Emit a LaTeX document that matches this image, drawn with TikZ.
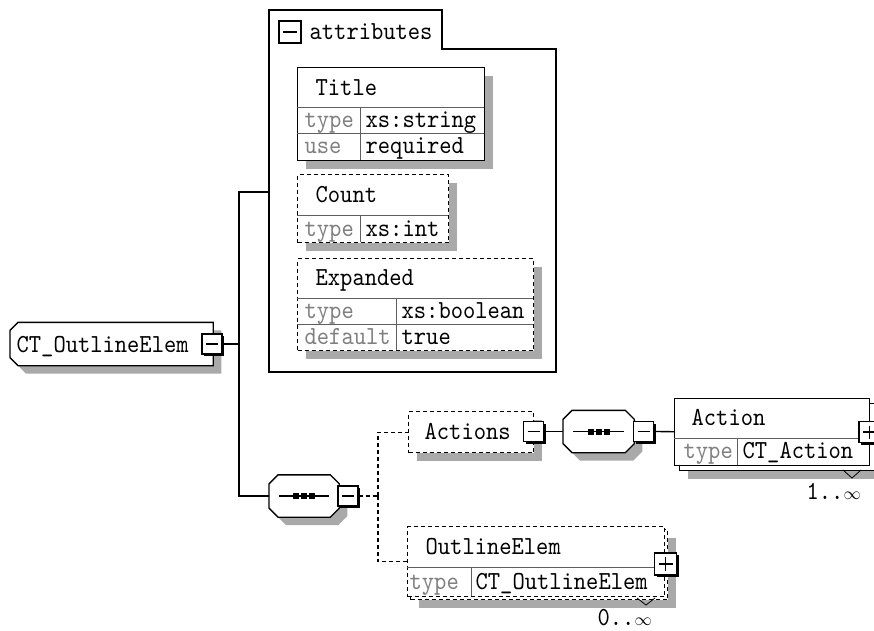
\documentclass[tikz,border=0pt]{standalone}
\usepackage{fontspec}
\usepackage{tikz}
\usetikzlibrary{shadows}

\newfontfamily\xsdfont{lmmono10-regular.otf}[FakeStretch=0.9]
\newcommand{\xsdtext}{\fontsize{26pt}{28pt}\xsdfont}
\definecolor{shadowgray}{HTML}{A9A9A9}
\definecolor{keygray}{HTML}{7F7F7F}
\definecolor{rulegray}{HTML}{5F5F5F}

% outline of a compositor: a box with all four corners cut off
\newcommand{\octpath}[2]{([xshift=#2]#1.north west) -- ([xshift=-#2]#1.north east) -- ([yshift=-#2]#1.north east) -- ([yshift=#2]#1.south east) -- ([xshift=-#2]#1.south east) -- ([xshift=#2]#1.south west) -- ([yshift=#2]#1.south west) -- ([yshift=-#2]#1.north west) -- cycle}
% three dots on a line, the sequence mark
\newcommand{\seqmark}[1]{%
    \draw[line width=1.3pt] ([xshift=10pt]#1.west) -- ([xshift=-10pt]#1.east);
    \foreach \dx in {-8, 0, 8}
        \fill ([xshift=\dx pt]#1.center) +(-3pt, -3pt) rectangle +(3pt, 3pt);
}

\begin{document}
\begin{tikzpicture}[
        x=1pt, y=-1pt,
        line width=1.3pt,
        drop/.style={general shadow={fill=shadowgray, shadow xshift=8pt, shadow yshift=-8pt}},
        elem_flat/.style={draw, rectangle, fill=white, inner sep=0pt, anchor=north west},
        elem_box/.style={elem_flat, drop},
        opt_flat/.style={elem_flat, dash pattern=on 4pt off 3pt},
        opt_box/.style={elem_box, dash pattern=on 4pt off 3pt},
        frame/.style={rectangle, inner sep=0pt, anchor=west},
        seq_frame/.style={frame, minimum width=69pt, minimum height=41pt},
        shape_line/.style={draw, fill=white, drop},
        tg_base/.style={draw, fill=white, rectangle, minimum size=20pt, inner sep=0pt},
        tg_3d/.style={general shadow={fill=black, shadow xshift=2pt, shadow yshift=-2pt}},
        bar_minus/.style={path picture={\draw[line width=1.3pt] ([xshift=4pt]path picture bounding box.west) -- ([xshift=-4pt]path picture bounding box.east);}},
        bar_plus/.style={path picture={\draw[line width=1.3pt] ([xshift=4pt]path picture bounding box.west) -- ([xshift=-4pt]path picture bounding box.east) ([yshift=-4pt]path picture bounding box.north) -- ([yshift=4pt]path picture bounding box.south);}},
        tg_minus/.style={tg_base, tg_3d, bar_minus},
        tg_plus/.style={tg_base, tg_3d, bar_plus},
        conn/.style={draw=black, line width=1.3pt},
        opt_conn/.style={conn, dash pattern=on 4pt off 3pt},
        rule_line/.style={draw=rulegray, line width=1pt},
        name_text/.style={anchor=base west, inner sep=0pt, font=\xsdtext},
        key_text/.style={name_text, text=keygray}
    ]
        \useasboundingbox (0, 0) rectangle (874, 630);

        % attributes group
        \draw[fill=white] (269, 10) -- (442, 10) -- (442, 49) -- (556, 49) -- (556, 372) -- (269, 372) -- cycle;
        \node (attr_tg) at (290, 32) [tg_base, minimum size=22pt, line width=2.6pt, bar_minus] {};
        \node (attr_name) at (309, 39) [name_text] {attributes};
        \coordinate (attr_in) at (269, 192);

        \node (title) at (297, 67) [elem_box, minimum width=187pt, minimum height=93pt] {};
        \draw[rule_line] (297, 107) -- (484, 107) (297, 133) -- (484, 133) (360, 107) -- (360, 160);
        \node (title_name) at (315, 95) [name_text] {Title};
        \node (title_k1) at (304, 127.5) [key_text] {type};
        \node (title_v1) at (365, 127.5) [name_text] {xs:string};
        \node (title_k2) at (304, 153.5) [key_text] {use};
        \node (title_v2) at (365, 153.5) [name_text] {required};

        \node (count) at (297, 174) [opt_box, minimum width=151pt, minimum height=68pt] {};
        \draw[rule_line] (297, 215) -- (448, 215) (360, 215) -- (360, 242);
        \node (count_name) at (315, 202) [name_text] {Count};
        \node (count_k1) at (304, 236) [key_text] {type};
        \node (count_v1) at (365, 236) [name_text] {xs:int};

        \node (expanded) at (297, 258) [opt_box, minimum width=236pt, minimum height=92pt] {};
        \draw[rule_line] (297, 298) -- (533, 298) (297, 324) -- (533, 324) (396, 298) -- (396, 350);
        \node (expanded_name) at (315, 285.5) [name_text] {Expanded};
        \node (expanded_k1) at (304, 318.5) [key_text] {type};
        \node (expanded_v1) at (401, 318.5) [name_text] {xs:boolean};
        \node (expanded_k2) at (304, 344.5) [key_text] {default};
        \node (expanded_v2) at (401, 344.5) [name_text] {true};

        % complex type root, left corners cut
        \node (root) at (10, 344) [frame, minimum width=202pt, minimum height=42pt] {};
        \draw[shape_line] ([xshift=8pt]root.north west) -- (root.north east) -- (root.south east) -- ([xshift=8pt]root.south west) -- ([yshift=8pt]root.south west) -- ([yshift=-8pt]root.north west) -- cycle;
        \node (root_name) at (16, 352) [name_text] {CT\_OutlineElem};
        \node (root_tg) at (212, 344) [tg_minus] {};
        \coordinate (trunk) at (239, 344);

        % outer sequence
        \node (seq_main) at (269, 496) [seq_frame] {};
        \draw[shape_line] \octpath{seq_main}{9pt};
        \seqmark{seq_main}
        \node (seq_main_tg) at (348, 496) [tg_minus] {};
        \coordinate (branch) at (378, 496);

        \node (actions) at (408, 411) [opt_box, minimum width=125pt, minimum height=41pt] {};
        \node (actions_name) at (424, 439) [name_text] {Actions};
        \node (actions_tg) at (533.5, 431.5) [tg_minus] {};

        % inner sequence
        \node (seq_act) at (563, 431.5) [seq_frame, minimum width=70pt] {};
        \draw[shape_line] \octpath{seq_act}{9pt};
        \seqmark{seq_act}
        \node (seq_act_tg) at (643.5, 431.5) [tg_minus] {};

        % repeated Action element
        \node (action_back) at (679, 403) [elem_box, minimum width=195pt, minimum height=67pt] {};
        \node (action) at (674, 398) [elem_flat, minimum width=195pt, minimum height=67pt] {};
        \draw[rule_line] (674, 438) -- (869, 438) (737, 438) -- (737, 465);
        \node (action_name) at (691, 425.5) [name_text] {Action};
        \node (action_k1) at (683, 458.5) [key_text] {type};
        \node (action_v1) at (742, 458.5) [name_text] {CT\_Action};
        \node (action_tg) at (869.5, 432) [tg_plus, minimum size=21pt] {};
        \draw[line width=0.8pt] (843, 470) -- (852, 478) -- (861, 470);
        \node (action_occ) at (806, 499.5) [name_text] {1..{\fontsize{18pt}{18pt}\selectfont$\infty$}};

        % repeated OutlineElem element
        \node (outline_back) at (410, 529) [opt_box, minimum width=257pt, minimum height=70pt] {};
        \node (outline) at (407, 526) [opt_flat, minimum width=257pt, minimum height=70pt] {};
        \draw[rule_line] (407, 567) -- (664, 567) (471, 567) -- (471, 596);
        \node (outline_name) at (425, 554) [name_text] {OutlineElem};
        \node (outline_k1) at (409, 589) [key_text] {type};
        \node (outline_v1) at (475, 589) [name_text] {CT\_OutlineElem};
        \node (outline_tg) at (665.5, 564) [tg_plus, minimum size=22pt] {};
        \draw[line width=0.8pt] (637, 598) -- (646, 605) -- (655, 598);
        \node (outline_occ) at (597, 625) [name_text] {0..{\fontsize{18pt}{18pt}\selectfont$\infty$}};

        % connections
        \draw[conn] (root_tg) -- (trunk);
        \draw[conn] (trunk) |- (attr_in);
        \draw[conn] (trunk) |- (seq_main);
        \draw[opt_conn] (seq_main_tg) -- (branch);
        \draw[opt_conn] (branch) |- (actions);
        \draw[opt_conn] (branch) |- (outline);
        \draw[conn] (actions_tg) -- (seq_act);
        \draw[conn] (seq_act_tg) -- (action);

    \end{tikzpicture}
\end{document}
